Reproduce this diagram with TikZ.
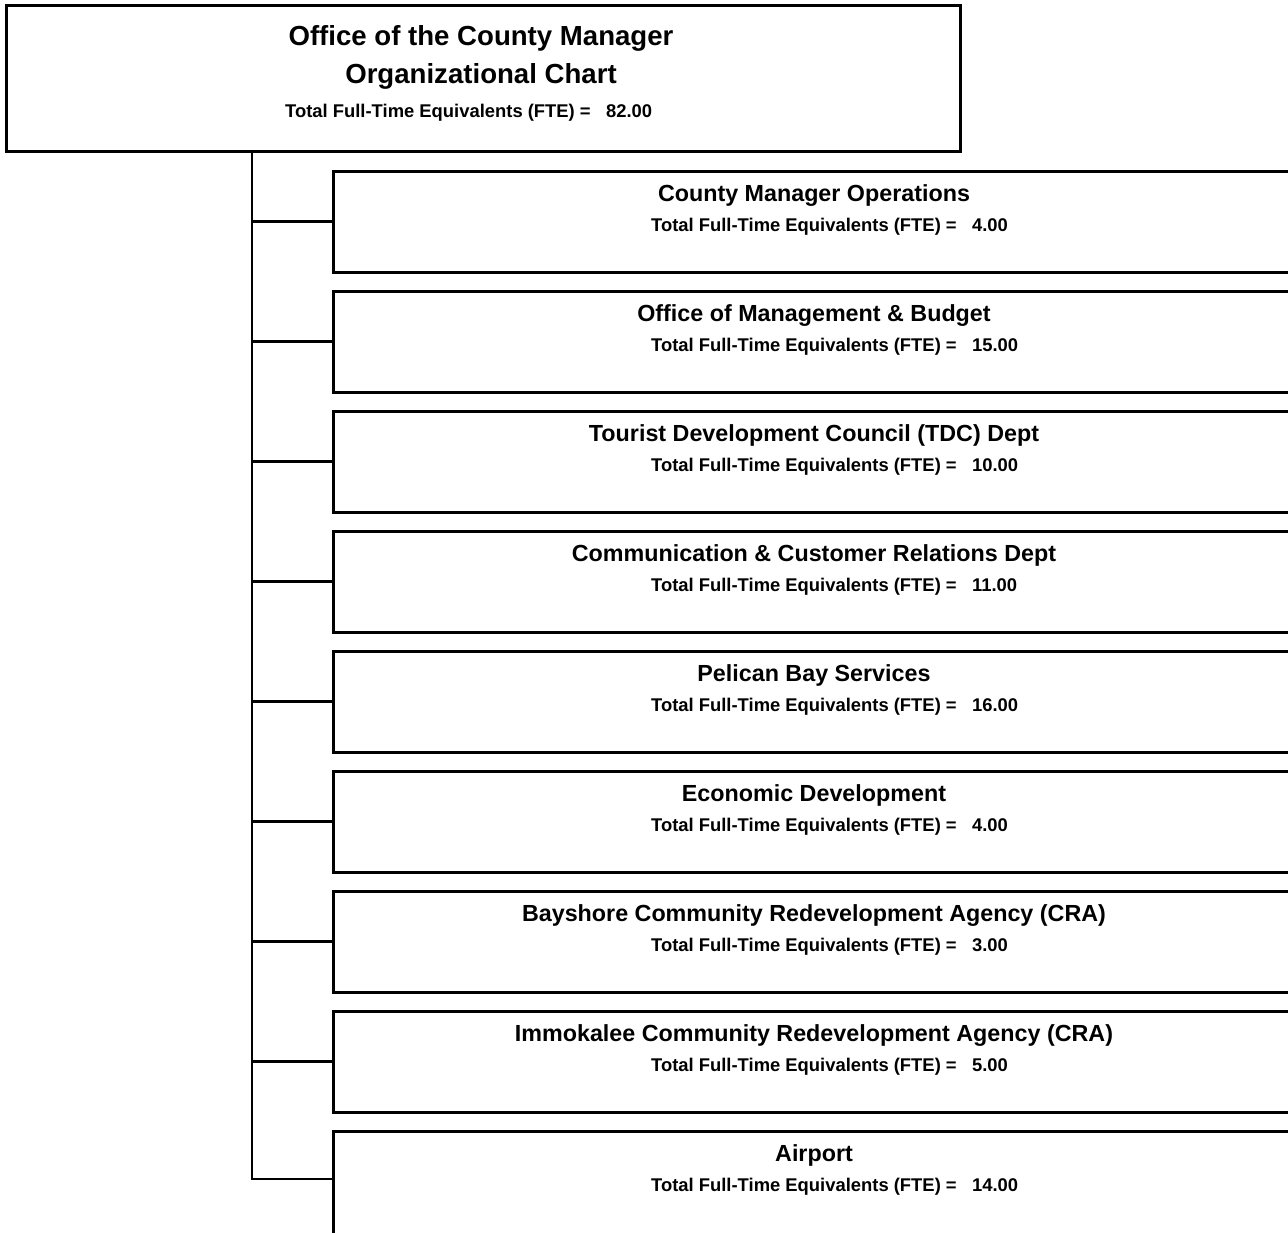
\documentclass[tikz,border=0pt]{standalone}
\usepackage{fontspec}
\setmainfont{Liberation Sans}
\usepackage{tikz}

\tikzset{
  unit/.style={draw, line width=3pt, minimum width=962pt, minimum height=101pt,
    anchor=north west, inner sep=0pt, outer sep=0pt},
  unittitle/.style={anchor=base, inner sep=0pt, font=\fontsize{23.3}{28}\selectfont\bfseries},
  fte/.style={anchor=base west, inner sep=0pt, font=\fontsize{18.4}{22}\selectfont\bfseries},
  link/.style={line width=2.8pt}
}

\begin{document}
\begin{tikzpicture}[x=1pt, y=-1pt]
  \useasboundingbox (0,0) rectangle (1288,1232);
  \clip (0,0) rectangle (1288,1232);

  % head office
  \node[draw, line width=3pt, minimum width=954pt, minimum height=146pt, anchor=north west,
        inner sep=0pt, outer sep=0pt] (top) at (6,5) {};
  \node[unittitle, font=\fontsize{27.6}{33}\selectfont\bfseries] (toptitle) at (481,45) {Office of the County Manager};
  \node[unittitle, font=\fontsize{27.6}{33}\selectfont\bfseries] (topsub) at (481,83) {Organizational Chart};
  \node[fte, font=\fontsize{18.4}{22}\selectfont\bfseries] (topfte) at (285,117) {Total Full-Time Equivalents (FTE) =\ \ \ 82.00};

  % departments
  \node[unit] (c1) at (333,171) {};
  \node[unittitle] (c1t) at (814,201) {County Manager Operations};
  \node[fte] (c1f) at (651,231) {Total Full-Time Equivalents (FTE) =\ \ \ 4.00};

  \node[unit] (c2) at (333,291) {};
  \node[unittitle] (c2t) at (814,321) {Office of Management \& Budget};
  \node[fte] (c2f) at (651,351) {Total Full-Time Equivalents (FTE) =\ \ \ 15.00};

  \node[unit] (c3) at (333,411) {};
  \node[unittitle] (c3t) at (814,441) {Tourist Development Council (TDC) Dept};
  \node[fte] (c3f) at (651,471) {Total Full-Time Equivalents (FTE) =\ \ \ 10.00};

  \node[unit] (c4) at (333,531) {};
  \node[unittitle] (c4t) at (814,561) {Communication \& Customer Relations Dept};
  \node[fte] (c4f) at (651,591) {Total Full-Time Equivalents (FTE) =\ \ \ 11.00};

  \node[unit] (c5) at (333,651) {};
  \node[unittitle] (c5t) at (814,681) {Pelican Bay Services};
  \node[fte] (c5f) at (651,711) {Total Full-Time Equivalents (FTE) =\ \ \ 16.00};

  \node[unit] (c6) at (333,771) {};
  \node[unittitle] (c6t) at (814,801) {Economic Development};
  \node[fte] (c6f) at (651,831) {Total Full-Time Equivalents (FTE) =\ \ \ 4.00};

  \node[unit] (c7) at (333,891) {};
  \node[unittitle] (c7t) at (814,921) {Bayshore Community Redevelopment Agency (CRA)};
  \node[fte] (c7f) at (651,951) {Total Full-Time Equivalents (FTE) =\ \ \ 3.00};

  \node[unit] (c8) at (333,1011) {};
  \node[unittitle] (c8t) at (814,1041) {Immokalee Community Redevelopment Agency (CRA)};
  \node[fte] (c8f) at (651,1071) {Total Full-Time Equivalents (FTE) =\ \ \ 5.00};

  \node[unit, minimum height=130pt] (c9) at (333,1131) {};
  \node[unittitle] (c9t) at (814,1161) {Airport};
  \node[fte] (c9f) at (651,1191) {Total Full-Time Equivalents (FTE) =\ \ \ 14.00};
  \coordinate (c9b) at (333,1179);

  % connectors
  \coordinate (trunk) at (252,151);
  \draw[link] (trunk) |- (c9b);
  \draw[link] (trunk |- c1.west) -- (c1.west);
  \draw[link] (trunk |- c2.west) -- (c2.west);
  \draw[link] (trunk |- c3.west) -- (c3.west);
  \draw[link] (trunk |- c4.west) -- (c4.west);
  \draw[link] (trunk |- c5.west) -- (c5.west);
  \draw[link] (trunk |- c6.west) -- (c6.west);
  \draw[link] (trunk |- c7.west) -- (c7.west);
  \draw[link] (trunk |- c8.west) -- (c8.west);
\end{tikzpicture}
\end{document}
